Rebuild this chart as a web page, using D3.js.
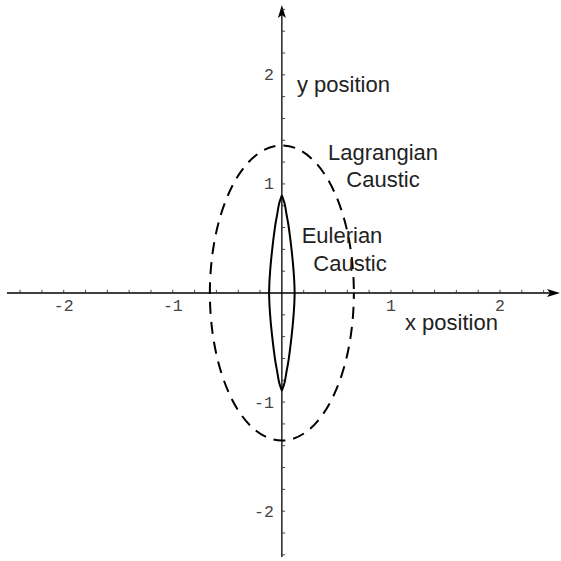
<!DOCTYPE html>
<html>
<head>
<meta charset="utf-8">
<script src="https://cdn.jsdelivr.net/npm/d3@7"></script>
<style>
  html, body { margin: 0; padding: 0; background: #fff; }
  svg { display: block; }
</style>
</head>
<body>
<svg id="chart" width="561" height="561"></svg>
<script>
// ---- data ----
const xTickValues = [-2, -1, 1, 2];
const yTickValues = [-2, -1, 1, 2];
const xTickLabels = ["-2", "-1", "1", "2"];
const yTickLabels = ["-2", "-1", "1", "2"];
const lagrangianSemiAxes = [0.66, 1.353];          // [x semi-axis, y semi-axis]
const eulerianY         = [0.896, 0.82, 0.72, 0.637, 0.53, 0.422, 0.31, 0.208, 0.1, 0];
const eulerianHalfWidth = [0, 0.025, 0.043, 0.058, 0.073, 0.086, 0.098, 0.107, 0.114, 0.117];
const labels = [
  { lines: ["y position"], x: 297, y: 91.5, anchor: "start" },
  { lines: ["Lagrangian", "Caustic"], x: 383, y: 159.5, anchor: "middle" },
  { lines: ["Eulerian", "Caustic"], x: 342, y: 243, anchor: "middle", dx2: 8 },
  { lines: ["x position"], x: 405, y: 330, anchor: "start" }
];

// ---- scales ----
const x = d3.scaleLinear().domain([-2.52, 2.55]).range([7, 560]);
const y = d3.scaleLinear().domain([-2.42, 2.64]).range([557, 5]);
const svg = d3.select("#chart");

// ---- axes ----
const axisColor = "#000";
svg.append("line").attr("x1", x(-2.52)).attr("x2", x(2.55) - 8)
  .attr("y1", y(0)).attr("y2", y(0)).attr("stroke", axisColor).attr("stroke-width", 1.3);
svg.append("line").attr("x1", x(0)).attr("x2", x(0))
  .attr("y1", y(2.64) + 8).attr("y2", y(-2.42)).attr("stroke", axisColor).attr("stroke-width", 1.3);
// arrow heads
const xe = x(2.55), y0 = y(0), x0 = x(0), ye = y(2.64);
svg.append("path").attr("d", `M${xe},${y0} L${xe - 13},${y0 - 4} L${xe - 10},${y0} L${xe - 13},${y0 + 4} Z`).attr("fill", axisColor);
svg.append("path").attr("d", `M${x0},${ye} L${x0 - 4},${ye + 13} L${x0},${ye + 10} L${x0 + 4},${ye + 13} Z`).attr("fill", axisColor);

// minor/major ticks every 0.2
const xMinor = d3.range(-24, 25, 2).map(v => v / 10).filter(v => v !== 0);
const yMinor = d3.range(-24, 27, 2).map(v => v / 10).filter(v => v !== 0);
svg.append("g").selectAll("line").data(xMinor).join("line")
  .attr("x1", d => x(d)).attr("x2", d => x(d))
  .attr("y1", y0).attr("y2", y0 - 3.2)
  .attr("stroke", "#333").attr("stroke-width", 0.9);
svg.append("g").selectAll("line").data(yMinor).join("line")
  .attr("y1", d => y(d)).attr("y2", d => y(d))
  .attr("x1", x0).attr("x2", x0 + 3.2)
  .attr("stroke", "#333").attr("stroke-width", 0.9);

// tick labels
svg.append("g").selectAll("text").data(xTickValues).join("text")
  .attr("x", d => x(d)).attr("y", y0 + 17.5)
  .attr("text-anchor", "middle")
  .attr("font-family", "'Liberation Mono', 'DejaVu Sans Mono', monospace")
  .attr("font-size", 16.5).attr("fill", "#444")
  .text((d, i) => xTickLabels[i]);
svg.append("g").selectAll("text").data(yTickValues).join("text")
  .attr("x", x0 - 8).attr("y", d => y(d) + 5.5)
  .attr("text-anchor", "end")
  .attr("font-family", "'Liberation Mono', 'DejaVu Sans Mono', monospace")
  .attr("font-size", 16.5).attr("fill", "#444")
  .text((d, i) => yTickLabels[i]);

// ---- Lagrangian caustic (dashed ellipse) ----
svg.append("ellipse")
  .attr("cx", x(0)).attr("cy", y(0))
  .attr("rx", x(lagrangianSemiAxes[0]) - x(0))
  .attr("ry", y(0) - y(lagrangianSemiAxes[1]))
  .attr("fill", "none").attr("stroke", "#000").attr("stroke-width", 2)
  .attr("stroke-dasharray", "12,8").attr("stroke-dashoffset", 6);

// ---- Eulerian caustic (lens with cusps) ----
const half = eulerianY.map((v, i) => [eulerianHalfWidth[i], v]);
const fullSide = half.concat(half.slice(0, -1).reverse().map(p => [p[0], -p[1]]));
const line = d3.line().x(d => x(d[0])).y(d => y(d[1])).curve(d3.curveCatmullRom);
[1, -1].forEach(s => {
  svg.append("path")
    .attr("d", line(fullSide.map(p => [s * p[0], p[1]])))
    .attr("fill", "none").attr("stroke", "#000").attr("stroke-width", 2);
});

// ---- labels ----
labels.forEach(l => {
  const t = svg.append("text")
    .attr("font-family", "'Liberation Sans', Arial, sans-serif")
    .attr("font-size", 22).attr("fill", "#222")
    .attr("text-anchor", l.anchor);
  l.lines.forEach((s, i) => {
    t.append("tspan").attr("x", l.x + (i > 0 && l.dx2 ? l.dx2 : 0))
      .attr("y", l.y + i * 27.5).text(s);
  });
});
</script>
</body>
</html>
